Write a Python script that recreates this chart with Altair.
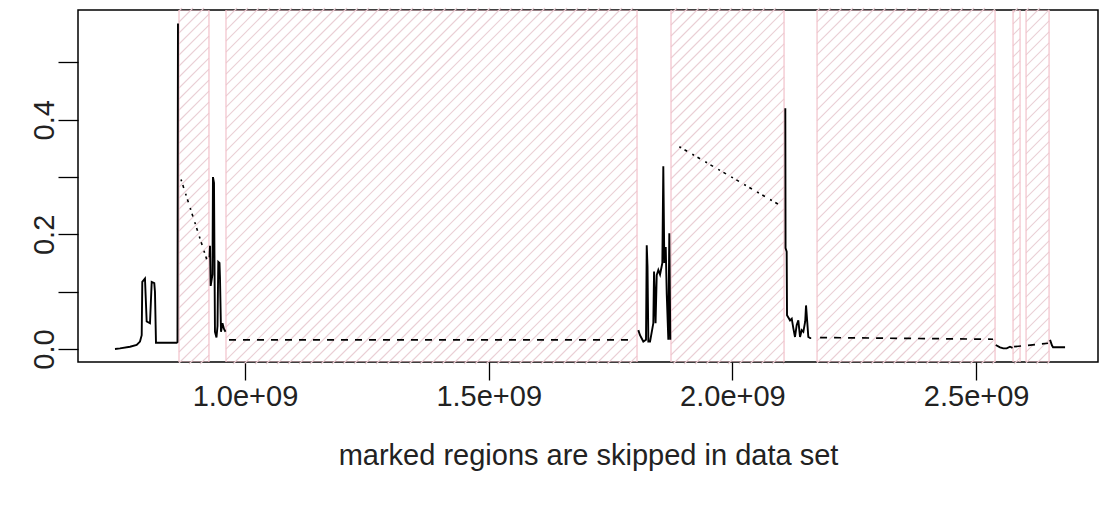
import altair as alt
import pandas as pd
import numpy as np

# ---- data (x values in units of 1e9) ----
seg_a_x = [0.7333, 0.7435, 0.7641, 0.7778, 0.7846, 0.7881, 0.7893, 0.7948, 0.7983, 0.8051, 0.8086,
           0.8139, 0.8153, 0.8174, 0.8599, 0.8615, 0.8625]
seg_a_y = [0.000, 0.001, 0.004, 0.007, 0.013, 0.024, 0.117, 0.123, 0.048, 0.045, 0.117,
           0.115, 0.100, 0.011, 0.011, 0.012, 0.568]

seg_b_x = [0.9272, 0.9282, 0.9296, 0.9333, 0.9343, 0.9364, 0.9384, 0.9415, 0.9436, 0.9452, 0.9477,
           0.9487, 0.9508, 0.9538, 0.9569, 0.9600]
seg_b_y = [0.160, 0.180, 0.110, 0.130, 0.300, 0.290, 0.030, 0.020, 0.040, 0.152, 0.150,
           0.124, 0.030, 0.045, 0.035, 0.030]

seg_c_x = [1.8069, 1.8104, 1.8172, 1.8227, 1.8242, 1.8258, 1.8275, 1.8310, 1.8377, 1.8392, 1.8423,
           1.8447, 1.8480, 1.8515, 1.8562, 1.8582, 1.8603, 1.8632, 1.8652, 1.8685, 1.8705, 1.8726]
seg_c_y = [0.033, 0.024, 0.013, 0.016, 0.181, 0.144, 0.013, 0.013, 0.045, 0.135, 0.045,
           0.129, 0.138, 0.130, 0.150, 0.319, 0.150, 0.178, 0.097, 0.016, 0.202, 0.016]

seg_d_x = [2.1085, 2.1090, 2.1113, 2.1120, 2.1182, 2.1217, 2.1250, 2.1284, 2.1319, 2.1352, 2.1387,
           2.1422, 2.1455, 2.1493, 2.1510, 2.1537, 2.1557, 2.1596, 2.1616]
seg_d_y = [0.420, 0.176, 0.170, 0.059, 0.050, 0.053, 0.036, 0.021, 0.042, 0.050, 0.021,
           0.033, 0.030, 0.048, 0.076, 0.045, 0.021, 0.019, 0.019]

seg_e_x = [2.5402, 2.5490, 2.5558, 2.5627, 2.5695, 2.5747]
seg_e_y = [0.007, 0.003, 0.001, 0.001, 0.004, 0.002]

seg_f_x = [2.6516, 2.6557, 2.6578, 2.6680, 2.6824]
seg_f_y = [0.016, 0.006, 0.003, 0.003, 0.003]

# filled-in values across skipped regions (drawn dashed / dotted)
gap_x0 = [0.8687, 0.9672, 1.8911, 2.1798, 2.5778]
gap_x1 = [0.9235, 1.8002, 2.1032, 2.5347, 2.6475]
gap_y0 = [0.296, 0.016, 0.353, 0.020, 0.004]
gap_y1 = [0.151, 0.016, 0.248, 0.017, 0.010]
gap_kind = ["dot", "dash", "dot", "dash", "dash"]

# skipped regions
reg_start = [0.8646, 0.9610, 1.8740, 2.1736, 2.5757, 2.6024]
reg_end = [0.9261, 1.8043, 2.1059, 2.5388, 2.5901, 2.6496]

x_ticks = [1.0, 1.5, 2.0, 2.5]
y_ticks = [0.0, 0.1, 0.2, 0.3, 0.4, 0.5]

XMIN, XMAX = 0.6574, 2.750
YMIN, YMAX = -0.0227, 0.5916
W, H = 1020, 352
HATCH = 11  # horizontal spacing of hatch lines, px
OVER = 2.0  # hatch lines run slightly past the frame, breaking it as in the original

E9 = 1e9

# ---- tables ----
solid_rows = []
for sid, (xs, ys) in enumerate([(seg_a_x, seg_a_y), (seg_b_x, seg_b_y), (seg_c_x, seg_c_y),
                               (seg_d_x, seg_d_y), (seg_e_x, seg_e_y), (seg_f_x, seg_f_y)]):
    for i, (xv, yv) in enumerate(zip(xs, ys)):
        solid_rows.append({"seg": sid, "i": i, "x": xv * E9, "y": yv})
solid = pd.DataFrame(solid_rows)

gaps = pd.DataFrame({"x": [v * E9 for v in gap_x0], "x2": [v * E9 for v in gap_x1],
                     "y": gap_y0, "y2": gap_y1, "kind": gap_kind})
regions = pd.DataFrame({"x": [v * E9 for v in reg_start], "x2": [v * E9 for v in reg_end]})


def to_px(v):
    return (v - XMIN) / (XMAX - XMIN) * W


def from_px(p):
    return XMIN + p / W * (XMAX - XMIN)


def yval(p):
    return YMAX - p / H * (YMAX - YMIN)


# hatch lines ("/" at 45 degrees on screen) inside each region
hatch_rows = []
top, bot = -OVER, H + OVER
for s, e in zip(reg_start, reg_end):
    p0, p1 = to_px(s), to_px(e)
    k0 = int(np.floor(p0 / HATCH)) - 1
    k1 = int(np.ceil((p1 + bot) / HATCH)) + 1
    for k in range(k0, k1 + 1):
        c = k * HATCH + 3
        xa = max(p0, c - bot)
        xb = min(p1, c - top)
        if xb - xa > 0.2:
            hatch_rows.append({"x": from_px(xa) * E9, "y": yval(c - xa),
                               "x2": from_px(xb) * E9, "y2": yval(c - xb)})
hatch = pd.DataFrame(hatch_rows)

xscale = alt.Scale(domain=[XMIN * E9, XMAX * E9], nice=False, zero=False)
yscale = alt.Scale(domain=[YMIN, YMAX], nice=False, zero=False)

FONT = "Liberation Sans"
FS = 29
TXT = "#222222"

xaxis = alt.Axis(values=[v * E9 for v in x_ticks],
                 labelExpr="format(datum.value / 1e9, '.1f') + 'e+09'",
                 tickSize=18, tickColor="black", tickWidth=1.3, domain=False, grid=False,
                 labelFont=FONT, labelFontSize=FS, labelColor=TXT, labelPadding=2,
                 title="marked regions are skipped in data set", titleFont=FONT,
                 titleFontSize=FS, titleFontWeight="normal", titleColor=TXT, titlePadding=30)
yaxis = alt.Axis(values=y_ticks,
                 labelExpr="round(datum.value * 10) % 2 == 0 ? format(datum.value, '.1f') : ''",
                 tickSize=20, tickColor="black", tickWidth=1.3, domain=False, grid=False,
                 labelFont=FONT, labelFontSize=FS, labelColor=TXT, labelPadding=5,
                 labelAngle=270, labelAlign="center", labelBaseline="alphabetic", title="")

frame_layer = alt.Chart(pd.DataFrame({"k": [0]})).mark_rect(
    fillOpacity=0, stroke="black", strokeWidth=1.5).encode(
    x=alt.value(0), x2=alt.value(W), y=alt.value(0), y2=alt.value(H))

hatch_layer = alt.Chart(hatch).mark_rule(color="#eacfd5", strokeWidth=1.1).encode(
    x=alt.X("x:Q", scale=xscale, axis=xaxis), y=alt.Y("y:Q", scale=yscale, axis=yaxis),
    x2="x2:Q", y2="y2:Q")

region_layer = alt.Chart(regions).mark_rect(fillOpacity=0, stroke="#f2c2cb", strokeWidth=1.2,
                                            clip=True).encode(
    x=alt.X("x:Q", scale=xscale), x2="x2:Q", y=alt.value(0), y2=alt.value(H))

dot_layer = alt.Chart(gaps).transform_filter("datum.kind == 'dot'").mark_rule(
    color="black", strokeWidth=1.6, strokeDash=[2, 4, 3, 6]).encode(
    x=alt.X("x:Q", scale=xscale), x2="x2:Q", y=alt.Y("y:Q", scale=yscale), y2="y2:Q")

dash_layer = alt.Chart(gaps).transform_filter("datum.kind == 'dash'").mark_rule(
    color="black", strokeWidth=1.7, strokeDash=[7, 7]).encode(
    x=alt.X("x:Q", scale=xscale), x2="x2:Q", y=alt.Y("y:Q", scale=yscale), y2="y2:Q")

line_layer = alt.Chart(solid).mark_line(color="black", strokeWidth=1.9, interpolate="linear").encode(
    x=alt.X("x:Q", scale=xscale), y=alt.Y("y:Q", scale=yscale), detail="seg:N", order="i:Q")

chart = alt.layer(frame_layer, hatch_layer, region_layer, dot_layer, dash_layer, line_layer).properties(
    width=W, height=H,
    autosize=alt.AutoSizeParams(type="none"),
    padding={"left": 78, "top": 10, "right": 2, "bottom": 147},
    background="white",
).configure_view(strokeWidth=0)

chart.save("out.html", embed_options={"renderer": "svg", "actions": False})
